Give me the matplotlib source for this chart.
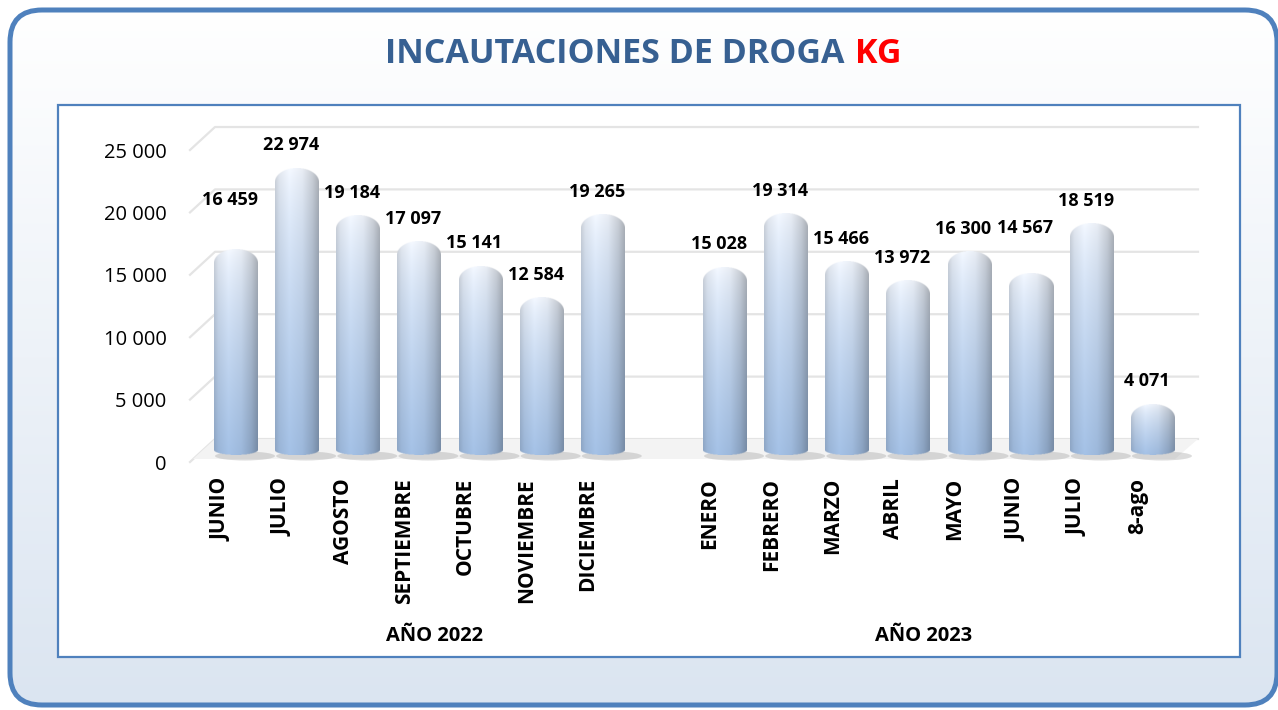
import matplotlib
matplotlib.use("Agg")
import matplotlib.pyplot as plt
import numpy as np
from matplotlib.patches import FancyBboxPatch, Rectangle, Polygon, Ellipse
from matplotlib.transforms import offset_copy, IdentityTransform

# data
months_2022 = ["JUNIO", "JULIO", "AGOSTO", "SEPTIEMBRE", "OCTUBRE", "NOVIEMBRE", "DICIEMBRE"]
kg_2022 = [16459, 22974, 19184, 17097, 15141, 12584, 19265]
months_2023 = ["ENERO", "FEBRERO", "MARZO", "ABRIL", "MAYO", "JUNIO", "JULIO", "8-ago"]
kg_2023 = [15028, 19314, 15466, 13972, 16300, 14567, 18519, 4071]
groups = ["AÑO 2022", "AÑO 2023"]
y_ticks = [0, 5000, 10000, 15000, 20000, 25000]

plt.rcParams['font.family'] = ['Open Sans', 'DejaVu Sans']

W, H = 1278, 710
fig = plt.figure(figsize=(W / 100, H / 100), dpi=100)

# rounded outer panel with a soft vertical gradient
bg = fig.add_axes([0, 0, 1, 1])
bg.set_xlim(0, W)
bg.set_ylim(H, 0)
bg.axis('off')
panel = FancyBboxPatch((10, 10), 1267, 695, boxstyle="round,pad=0,rounding_size=32",
                       facecolor='none', edgecolor='#4f81bd', lw=3.6, zorder=3)
bg.add_patch(panel)
g = np.linspace(0, 1, 256)[:, None, None]
c_top = np.array([1.0, 1.0, 1.0])
c_bot = np.array([0.859, 0.898, 0.945])
grad = c_top + (c_bot - c_top) * g
im = bg.imshow(grad, extent=(10, 1277, 705, 10), aspect='auto', zorder=1)
im.set_clip_path(panel)
bg.add_patch(Rectangle((58, 105), 1182, 552, facecolor='white', edgecolor='#4f81bd',
                       lw=1.6, zorder=4))

# title with red "KG"
renderer = fig.canvas.get_renderer()
t1 = fig.text(0, 1 - 54 / H, "INCAUTACIONES DE DROGA", fontsize=24.5, fontweight='bold',
              color='#376092', ha='left', va='center')
t2 = fig.text(0, 1 - 54 / H, "KG", fontsize=24.5, fontweight='bold',
              color='#ff0000', ha='left', va='center')
w1 = t1.get_window_extent(renderer).width
w2 = t2.get_window_extent(renderer).width
gap = 10
x_start = 643 - (w1 + gap + w2) / 2
t1.set_x(x_start / W)
t2.set_x((x_start + w1 + gap) / W)

# main axes
ax = fig.add_axes([190 / W, (H - 462) / H, 1010 / W, 332 / H], zorder=5)
ax.patch.set_visible(False)
slot = 61.13
xmin, xmax = -46 / slot, 964 / slot
ymax = 26603
ax.set_xlim(xmin, xmax)
ax.set_ylim(0, ymax)
ax.set_autoscale_on(False)
for s in ax.spines.values():
    s.set_visible(False)
ax.set_xticks([])
ax.set_yticks(y_ticks)
ax.set_yticklabels([f"{v:,}".replace(",", " ") for v in y_ticks], fontsize=14.5)
ax.tick_params(axis='y', length=0, pad=17)

px_per_kg = 332 / ymax
bx, by = 25, 23  # depth offset of back wall

# back wall gridlines
ident = IdentityTransform()
for v in y_ticks:
    x0, y0 = ax.transData.transform((xmin, v))
    x1, _ = ax.transData.transform((xmax, v))
    ax.add_line(plt.Line2D([x0, x0 + bx, x1 - 2], [y0, y0 + by, y0 + by],
                           transform=ident, color='#e4e4e4', lw=1.6, clip_on=False, zorder=1))

# floor
fx0, fy0 = ax.transData.transform((xmin, 0))
fx1, _ = ax.transData.transform((xmax, 0))
ax.add_patch(Polygon([(fx0 + 3, fy0 + 3), (fx0 + bx, fy0 + by), (fx1 - 2, fy0 + by),
                      (fx1 - bx, fy0 + 3)], closed=True, transform=ident,
                     facecolor='#f3f3f3', edgecolor='none', zorder=1))


def cylinder(h_px, w_px=44, k=2):
    nr = max(int(round(h_px * k)), 4)
    nc = w_px * k
    ys = (np.arange(nr) + 0.5) / k
    xs = (np.arange(nc) + 0.5) / k - w_px / 2
    X, Y = np.meshgrid(xs, ys)
    t = (X + w_px / 2) / w_px
    v = np.clip(Y / h_px, 0, 1) ** 0.7
    top = np.array([0.93, 0.945, 0.97])
    bot = np.array([0.62, 0.73, 0.87])
    base = top + (bot - top) * v[..., None]
    shade = np.interp(t, [0, 0.1, 0.33, 0.62, 0.85, 1], [0.88, 0.97, 1.04, 0.99, 0.87, 0.74])
    rgb = np.clip(base * shade[..., None], 0, 1)
    r = min(14, h_px / 2)
    rb = 5
    half = np.full_like(Y, w_px / 2)
    cd = np.clip((r - Y) / r, 0, 1)
    half = np.where(Y < r, w_px / 2 * np.sqrt(1 - cd ** 2), half)
    Yb = h_px - Y
    bd = np.clip((rb - Yb) / rb, 0, 1)
    half = np.where(Yb < rb, np.minimum(half, w_px / 2 * np.sqrt(1 - bd ** 2)), half)
    alpha = np.clip((half - np.abs(X)) * k + 0.5, 0, 1)
    return np.dstack([rgb, alpha])


x22 = np.arange(len(kg_2022))
x23 = np.arange(len(kg_2023)) + len(kg_2022) + 1
xs_all = np.concatenate([x22, x23])
vals_all = kg_2022 + kg_2023
names_all = months_2022 + months_2023

lift = offset_copy(ax.transData, fig=fig, x=0, y=7, units='dots')
bw = 44 / slot
for x, v in zip(xs_all, vals_all):
    cx, cy = ax.transData.transform((x, 0))
    ax.add_patch(Ellipse((cx + 9, cy + 6), 60, 9, transform=ident,
                         facecolor='#9c9c9c', alpha=0.35, edgecolor='none', zorder=2))
    ax.imshow(cylinder(v * px_per_kg), extent=(x - bw / 2, x + bw / 2, 0, v),
              transform=lift, aspect='auto', interpolation='bilinear', zorder=3)

# value labels (the two JUNIO labels sit higher in the original)
extra = {0: 27, 12: 22}
for i, (x, v) in enumerate(zip(xs_all, vals_all)):
    tr = offset_copy(ax.transData, fig=fig, x=-6, y=30 + extra.get(i, 0), units='dots')
    ax.text(x, v, f"{v:,}".replace(",", " "), transform=tr, ha='center', va='center',
            fontsize=13, fontweight='bold', zorder=6, clip_on=False)

# category labels
cat_tr = offset_copy(ax.transData, fig=fig, x=-15, y=-16, units='dots')
for x, name in zip(xs_all, names_all):
    ax.text(x, 0, name, transform=cat_tr, rotation=90, ha='center', va='top',
            fontsize=15, fontweight='bold', clip_on=False)

grp_tr = offset_copy(ax.transData, fig=fig, x=-15, y=-174, units='dots')
grp_x = [(len(kg_2022)) / 2, len(kg_2022) + 1 + (len(kg_2023) - 1) / 2]
for gx, gname in zip(grp_x, groups):
    ax.text(gx, 0, gname, transform=grp_tr, ha='center', va='center',
            fontsize=14.5, fontweight='bold', clip_on=False)

fig.savefig("out.png", dpi=100)
